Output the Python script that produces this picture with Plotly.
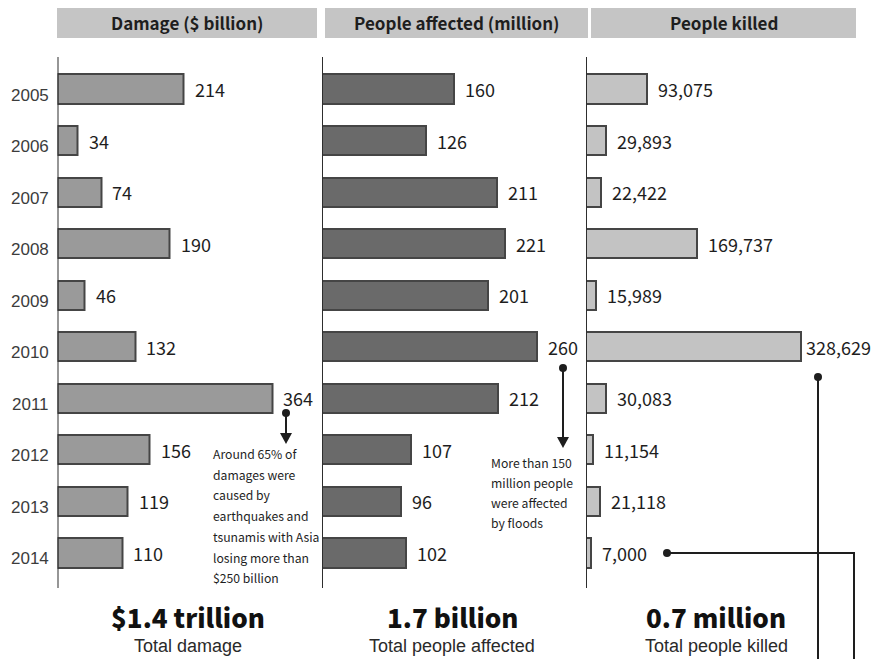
import plotly.graph_objects as go

# ---------------- data ----------------
years = [2005, 2006, 2007, 2008, 2009, 2010, 2011, 2012, 2013, 2014]
damage_bn = [214, 34, 74, 190, 46, 132, 364, 156, 119, 110]
affected_mn = [160, 126, 211, 221, 201, 260, 212, 107, 96, 102]
killed = [93075, 29893, 22422, 169737, 15989, 328629, 30083, 11154, 21118, 7000]

headers = ["Damage ($ billion)", "People affected (million)", "People killed"]
totals = ["$1.4 trillion", "1.7 billion", "0.7 million"]
total_labels = ["Total damage", "Total people affected", "Total people killed"]
note_damage = ["Around 65% of", "damages were", "caused by", "earthquakes and",
               "tsunamis with Asia", "losing more than", "$250 billion"]
note_affected = ["More than 150", "million people", "were affected", "by floods"]

# ---------------- geometry helpers ----------------
W, H = 873, 659


def px(x):
    return x / W


def py(y):
    return 1 - y / H


NARROW = "Noto Sans CJK SC, Liberation Sans Narrow, sans-serif"
REG = "Liberation Sans, Arial, sans-serif"

fills = ["#9a9a9a", "#6a6a6a", "#c3c3c3"]
edge = "#454545"
series = [damage_bn, affected_mn, killed]
fmts = [lambda v: f"{v}", lambda v: f"{v}", lambda v: f"{v:,}"]

panels = [
    dict(x0=57.5, x1=317, scale=0.590),
    dict(x0=322, x1=580, scale=0.828),
    dict(x0=586, x1=873, scale=0.000655),
]
row0, step = 89.0, 51.55
y_top = years[0] - row0 / step
y_bot = years[0] + (H - row0) / step

fig = go.Figure()
layout = dict(
    width=W, height=H, margin=dict(l=0, r=0, t=0, b=0),
    paper_bgcolor="white", plot_bgcolor="white", showlegend=False,
    bargap=0,
)
shapes, annots = [], []

for i, (p, vals) in enumerate(zip(panels, series)):
    n = "" if i == 0 else str(i + 1)
    xa, ya = "x" + n, "y" + n
    rng = (p["x1"] - p["x0"]) / p["scale"]
    layout["xaxis" + n] = dict(domain=[px(p["x0"]), px(p["x1"])], range=[0, rng],
                               visible=False, fixedrange=True, anchor=ya)
    layout["yaxis" + n] = dict(domain=[0, 1], range=[y_bot, y_top], visible=False,
                               fixedrange=True, anchor=xa)
    fig.add_trace(go.Bar(
        x=vals, y=years, orientation="h", width=0.565,
        marker=dict(color=fills[i], line=dict(color=edge, width=2)),
        xaxis=xa, yaxis=ya, hoverinfo="skip",
    ))
    shapes.append(dict(type="line", xref=xa, yref=ya, x0=0, x1=0,
                       y0=years[0] - 0.62, y1=years[-1] + 0.68,
                       line=dict(color="#2e2e2e", width=2)))
    vmax = max(vals)
    for yr, v in zip(years, vals):
        shift = 3 if (i == 2 and v == vmax) else 9
        annots.append(dict(xref=xa, yref=ya, x=v, y=yr, text=fmts[i](v),
                           xanchor="left", yanchor="middle", xshift=shift, showarrow=False,
                           font=dict(family=NARROW, size=18, color="#1e1e1e")))

for yr in years:
    annots.append(dict(xref="paper", yref="y", x=px(51), y=yr, text=str(yr),
                       xanchor="right", yanchor="middle", yshift=-6, showarrow=False,
                       font=dict(family=REG, size=17, color="#3c3c3c")))

boxes = [(57, 317), (325, 588), (591, 856)]
for (a, b), t in zip(boxes, headers):
    shapes.append(dict(type="rect", xref="paper", yref="paper", x0=px(a), x1=px(b),
                       y0=py(38), y1=py(8), fillcolor="#c5c5c5", line=dict(width=0),
                       layer="below"))
    annots.append(dict(xref="paper", yref="paper", x=px((a + b) / 2), y=py(23),
                       text=t, showarrow=False, xanchor="center", yanchor="middle",
                       font=dict(family=NARROW, size=17, weight=700, color="#1e1e1e")))

centers = [188, 452, 716]
for c, t, s in zip(centers, totals, total_labels):
    annots.append(dict(xref="paper", yref="paper", x=px(c), y=py(616), text=t,
                       showarrow=False, xanchor="center", yanchor="middle",
                       font=dict(family=NARROW, size=26, weight=900, color="#111111")))
    annots.append(dict(xref="paper", yref="paper", x=px(c), y=py(646), text=s,
                       showarrow=False, xanchor="center", yanchor="middle",
                       font=dict(family=REG, size=18, color="#2a2a2a")))

for k, line in enumerate(note_damage):
    annots.append(dict(xref="paper", yref="paper", x=px(211), y=py(454 + 20.7 * k),
                       text=line, showarrow=False, xanchor="left", yanchor="middle",
                       font=dict(family=NARROW, size=12.2, color="#1e1e1e")))
for k, line in enumerate(note_affected):
    annots.append(dict(xref="paper", yref="paper", x=px(489), y=py(463 + 20 * k),
                       text=line, showarrow=False, xanchor="left", yanchor="middle",
                       font=dict(family=NARROW, size=12.2, color="#1e1e1e")))

LC = "#1e1e1e"


def dot(x, y, r=4):
    shapes.append(dict(type="circle", xref="paper", yref="paper",
                       x0=px(x - r), x1=px(x + r), y0=py(y + r), y1=py(y - r),
                       fillcolor=LC, line=dict(width=0)))


def seg(xa, ya, xb, yb):
    shapes.append(dict(type="line", xref="paper", yref="paper",
                       x0=px(xa), x1=px(xb), y0=py(ya), y1=py(yb),
                       line=dict(color=LC, width=2)))


def arrowhead(x, ytip, w=6, h=11):
    shapes.append(dict(type="path", xref="paper", yref="paper",
                       path=f"M {px(x - w)} {py(ytip - h)} L {px(x + w)} {py(ytip - h)} L {px(x)} {py(ytip)} Z",
                       fillcolor=LC, line=dict(width=0)))


dot(286, 413)
seg(286, 413, 286, 434)
arrowhead(286, 444)
dot(563, 368)
seg(563, 368, 563, 437)
arrowhead(563, 448)
dot(818, 377)
seg(818, 377, 818, 659)
dot(667, 553)
seg(667, 553, 854, 553)
seg(854, 552, 854, 659)

layout["shapes"] = shapes
layout["annotations"] = annots
fig.update_layout(**layout)
fig.write_html("out.html", config={"displayModeBar": False},
               post_script="document.body.style.margin='0px';document.body.style.overflow='hidden';")
